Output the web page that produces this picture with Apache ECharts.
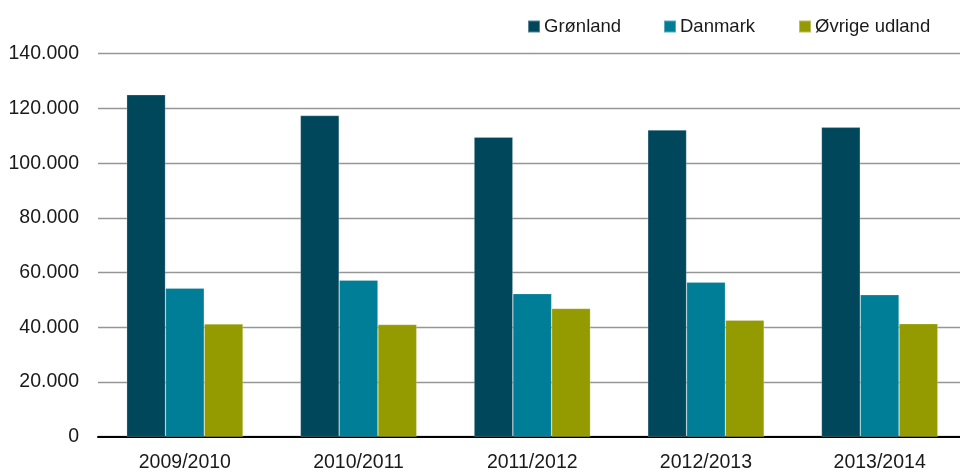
<!DOCTYPE html>
<html>
<head>
<meta charset="utf-8">
<script src="https://cdn.jsdelivr.net/npm/echarts@6/dist/echarts.min.js"></script>
<style>
html,body{margin:0;padding:0;background:#fff;}
#chart{width:960px;height:473px;}
</style>
</head>
<body>
<div id="chart"></div>
<script>
const categories = ['2009/2010', '2010/2011', '2011/2012', '2012/2013', '2013/2014'];
const seriesNames = ['Grønland', 'Danmark', 'Øvrige udland'];
const groenland = [125000, 117400, 109500, 112100, 113100];
const danmark = [54300, 57200, 52300, 56500, 51900];
const oevrige = [41200, 41000, 46900, 42600, 41300];
const yTicks = [0, 20000, 40000, 60000, 80000, 100000, 120000, 140000];

const colors = ['#01475C', '#017E97', '#939B00'];
const FONT = "'Liberation Sans', Arial, sans-serif";

function fmt(v) {
  return String(v).replace(/\B(?=(\d{3})+(?!\d))/g, '.');
}

const chart = echarts.init(document.getElementById('chart'), null, {renderer: 'canvas'});
const legendLefts = [527, 663, 798];
const legends = seriesNames.map((n, i) => ({
  data: [n],
  left: legendLefts[i],
  top: 17,
  padding: 0,
  itemWidth: 12,
  itemHeight: 12,
  icon: 'rect',
  selectedMode: false,
  textStyle: {fontFamily: FONT, fontSize: 18.5, color: '#1a1a1a', padding: [0, 0, 0, -1]}
}));

const dataArr = [groenland, danmark, oevrige];
chart.setOption({
  animation: false,
  color: colors,
  legend: legends,
  grid: {left: 98, top: 53.7, width: 868.5, height: 383, containLabel: false, outerBoundsMode: 'none'},
  xAxis: {
    type: 'category',
    data: categories,
    axisLine: {lineStyle: {color: '#000', width: 2}},
    axisTick: {show: false},
    axisLabel: {fontFamily: FONT, fontSize: 19.5, color: '#1a1a1a', margin: 16}
  },
  yAxis: {
    type: 'value',
    min: yTicks[0],
    max: yTicks[yTicks.length - 1],
    interval: yTicks[1] - yTicks[0],
    axisLine: {show: false},
    axisTick: {show: false},
    splitLine: {lineStyle: {color: '#969696', width: 1.3}},
    axisLabel: {fontFamily: FONT, fontSize: 19.5, color: '#1a1a1a', margin: 19, formatter: v => fmt(v)}
  },
  series: seriesNames.map((n, i) => ({
    name: n,
    type: 'bar',
    data: dataArr[i],
    barGap: '0%',
    barCategoryGap: '33%',
    itemStyle: {color: colors[i], borderColor: 'rgba(255,255,255,0.35)', borderWidth: 0.6}
  }))
});
</script>
</body>
</html>
